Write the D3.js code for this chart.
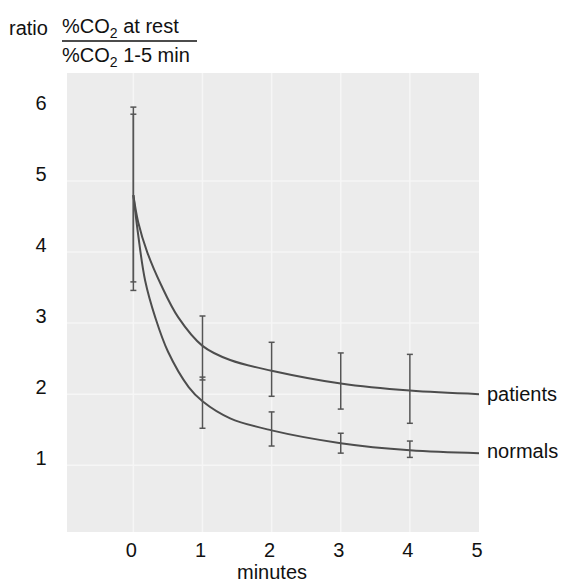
<!DOCTYPE html>
<html>
<head>
<meta charset="utf-8">
<script src="https://cdn.jsdelivr.net/npm/d3@7"></script>
<style>
  body { margin: 0; background: #fff; }
  text { font-family: "Liberation Sans", Arial, sans-serif; fill: #111; }
</style>
</head>
<body>
<div id="chart"></div>
<script>
// tick labels
var xTicks = [0, 1, 2, 3, 4, 5];
var yTicks = [1, 2, 3, 4, 5, 6];
var gridY = [1, 2, 3, 4, 5];

// fitted curves
var patientsCurveT = [0, 0.07, 0.2, 0.4, 0.65, 1, 1.4, 2, 3, 4, 5];
var patientsCurveV = [4.8, 4.42, 4.0, 3.54, 3.08, 2.68, 2.48, 2.33, 2.15, 2.05, 2.0];
var normalsCurveT = [0, 0.07, 0.17, 0.32, 0.5, 0.8, 1, 1.4, 2, 3, 4, 5];
var normalsCurveV = [4.8, 4.24, 3.6, 3.07, 2.6, 2.1, 1.9, 1.66, 1.49, 1.31, 1.21, 1.17];

// error bars
var barMinutes = [0, 1, 2, 3, 4];
var patientsLow = [3.46, 2.20, 1.97, 1.79, 1.59];
var patientsHigh = [6.04, 3.10, 2.73, 2.58, 2.56];
var normalsLow = [3.58, 1.52, 1.27, 1.17, 1.11];
var normalsHigh = [5.94, 2.24, 1.75, 1.45, 1.34];

var W = 563, H = 583;
var plotL = 67, plotR = 479, plotT = 73, plotB = 532;

var svg = d3.select("#chart").append("svg")
  .attr("width", W)
  .attr("height", H);

var x = d3.scaleLinear().domain([-0.96, 5]).range([plotL, plotR]);
var y = d3.scaleLinear().domain([0.06, 6.52]).range([plotB, plotT]);

// paper background of the plot
svg.append("rect")
  .attr("x", plotL).attr("y", plotT)
  .attr("width", plotR - plotL).attr("height", plotB - plotT)
  .attr("fill", "#ececec");

// faint white grid
svg.append("g").selectAll("line")
  .data(gridY)
  .enter().append("line")
  .attr("x1", plotL).attr("x2", plotR)
  .attr("y1", function(d) { return y(d); })
  .attr("y2", function(d) { return y(d); })
  .attr("stroke", "#f6f6f6").attr("stroke-width", 1.5);

svg.append("g").selectAll("line")
  .data(xTicks.slice(0, 5))
  .enter().append("line")
  .attr("x1", function(d) { return x(d); })
  .attr("x2", function(d) { return x(d); })
  .attr("y1", plotT).attr("y2", plotB)
  .attr("stroke", "#f6f6f6").attr("stroke-width", 1.5);

// curves
function toPts(t, v) { return t.map(function(d, i) { return [d, v[i]]; }); }
var line = d3.line()
  .x(function(d) { return x(d[0]); })
  .y(function(d) { return y(d[1]); })
  .curve(d3.curveCatmullRom.alpha(0.5));

[toPts(patientsCurveT, patientsCurveV), toPts(normalsCurveT, normalsCurveV)].forEach(function(pts) {
  svg.append("path")
    .attr("d", line(pts))
    .attr("fill", "none")
    .attr("stroke", "#4d4d4d")
    .attr("stroke-width", 2);
});

// error bars
function drawBars(lo, hi) {
  var g = svg.append("g").attr("stroke", "#555").attr("stroke-width", 1.5);
  barMinutes.forEach(function(m, i) {
    g.append("line")
      .attr("x1", x(m)).attr("x2", x(m))
      .attr("y1", y(lo[i])).attr("y2", y(hi[i]));
    [lo[i], hi[i]].forEach(function(v) {
      g.append("line")
        .attr("x1", x(m) - 3).attr("x2", x(m) + 3)
        .attr("y1", y(v)).attr("y2", y(v));
    });
  });
}
drawBars(patientsLow, patientsHigh);
drawBars(normalsLow, normalsHigh);

// y tick labels
svg.append("g").selectAll("text")
  .data(yTicks)
  .enter().append("text")
  .attr("x", 41)
  .attr("y", function(d) { return y(d); })
  .attr("text-anchor", "middle")
  .style("font-size", "20px")
  .text(function(d) { return d; });

// x tick labels
svg.append("g").selectAll("text")
  .data(xTicks)
  .enter().append("text")
  .attr("x", function(d) { return x(d) - 2; })
  .attr("y", 557)
  .attr("text-anchor", "middle")
  .style("font-size", "20px")
  .text(function(d) { return d; });

svg.append("text")
  .attr("x", (plotL + plotR) / 2 - 1)
  .attr("y", 579)
  .attr("text-anchor", "middle")
  .style("font-size", "20px")
  .text("minutes");

// series names
svg.append("text").attr("x", 487).attr("y", y(2.0) + 7)
  .style("font-size", "20px").text("patients");
svg.append("text").attr("x", 487).attr("y", y(1.17) + 5)
  .style("font-size", "20px").text("normals");

// y axis title as fraction
svg.append("text").attr("x", 9).attr("y", 35)
  .style("font-size", "20px").text("ratio");

var num = svg.append("text").attr("x", 62).attr("y", 33).style("font-size", "20px");
num.append("tspan").text("%CO");
num.append("tspan").attr("dy", 5).style("font-size", "14px").text("2");
num.append("tspan").attr("dy", -5).text(" at rest");

svg.append("line")
  .attr("x1", 62).attr("x2", 197)
  .attr("y1", 41).attr("y2", 41)
  .attr("stroke", "#111").attr("stroke-width", 1.3);

var den = svg.append("text").attr("x", 62).attr("y", 62).style("font-size", "20px");
den.append("tspan").text("%CO");
den.append("tspan").attr("dy", 5).style("font-size", "14px").text("2");
den.append("tspan").attr("dy", -5).text(" 1-5 min");
</script>
</body>
</html>
